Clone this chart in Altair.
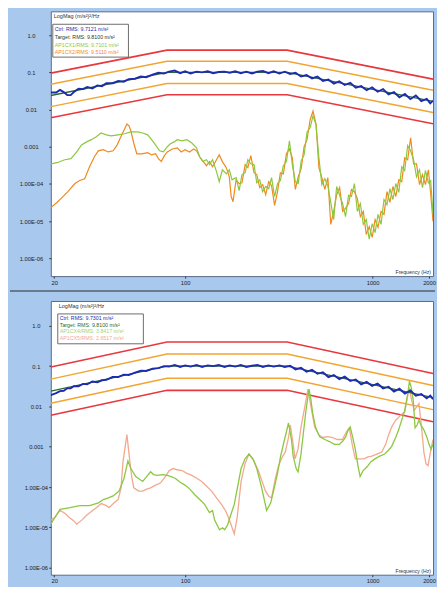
import altair as alt
import pandas as pd

# ---------------- data ----------------
# test profile break points (Hz) and levels in dB re 1 (m/s^2)^2/Hz
prof_freq = [19.2, 80, 350, 2100]
target_db = [-16.2, -10.0, -10.0, -17.8]
alarm_hi_db = [-13.2, -7.0, -7.0, -14.8]
alarm_lo_db = [-19.2, -13.0, -13.0, -20.8]
abort_hi_db = [-10.2, -4.0, -4.0, -11.8]
abort_lo_db = [-22.2, -16.0, -16.0, -23.8]

# control spectra (both tests)
ctrl_freq = [19.2, 20.5, 21.5, 22.5, 23.5, 24.5, 25.5, 27, 28.5, 30, 32, 34, 36, 38, 41, 44, 47, 50,
             54, 58, 62, 67, 72, 77, 82, 88, 94, 100, 107, 115, 123, 132, 141, 151, 162, 173, 185,
             198, 212, 227, 243, 260, 278, 297, 318, 340, 363, 388, 415, 444, 475, 508, 543, 581,
             621, 664, 710, 760, 813, 869, 929, 994, 1063, 1137, 1216, 1300, 1390, 1487, 1590,
             1700, 1818, 1944, 2030, 2100]
ctrl_top_db = [-15.4, -15.4, -14.7, -15.3, -16.1, -16.1, -15.3, -14.4, -14.5, -13.9, -14.3, -13.5,
               -13.7, -12.9, -12.9, -12.3, -12.5, -11.8, -11.7, -11.1, -11.3, -10.6, -10.1, -10.3,
               -9.8, -9.5, -10.2, -9.7, -10.3, -9.8, -10.0, -9.7, -10.2, -9.9, -9.8, -10.1, -9.7,
               -10.2, -9.8, -10.3, -9.8, -9.6, -10.2, -9.7, -10.3, -9.8, -10.4, -10.1, -11.1, -10.7,
               -11.6, -11.1, -12.3, -11.9, -13.0, -12.4, -13.4, -12.8, -14.1, -13.7, -14.8, -14.0,
               -15.2, -14.5, -15.9, -15.3, -16.7, -15.8, -17.2, -16.2, -17.7, -17.1, -18.3, -17.6]
ctrl_bot_db = [-17.2, -16.7, -16.2, -16.1, -15.5, -15.5, -15.0, -15.0, -14.4, -14.5, -13.8, -14.0,
               -13.5, -13.4, -12.7, -12.7, -12.1, -12.2, -11.6, -11.1, -11.2, -10.6, -10.5, -10.0,
               -10.1, -9.7, -10.2, -9.8, -10.1, -9.7, -10.2, -9.8, -10.0, -9.7, -10.2, -9.8, -10.1,
               -9.7, -10.2, -9.9, -9.7, -10.2, -9.8, -10.1, -9.8, -10.2, -9.9, -10.8, -10.4, -11.4,
               -10.9, -11.9, -11.5, -12.7, -12.2, -13.2, -12.6, -13.7, -13.3, -14.5, -13.9, -14.9,
               -14.3, -15.5, -15.1, -16.3, -15.6, -16.8, -16.0, -17.3, -16.9, -18.0, -17.3, -18.2]

# top test: response channels (shared high-frequency grid)
hi_freq = [194, 201, 209, 216, 224, 233, 241, 250, 259, 269, 279, 289, 300, 311, 322, 334, 347, 360,
           373, 387, 401, 416, 431, 447, 464, 481, 499, 517, 536, 556, 577, 598, 620, 643, 667, 692,
           717, 744, 771, 800, 829, 860, 892, 925, 959, 995, 1031, 1069, 1109, 1150, 1193, 1237,
           1283, 1330, 1379, 1430, 1483, 1538, 1595, 1654, 1715, 1779, 1845, 1913, 1984, 2040,
           2100]
cx1_lo_freq = [19.2, 20.7, 22.8, 24.6, 26.4, 28, 29.8, 31.6, 33.6, 35.6, 38, 40.2, 43.9, 47.5, 51.3,
               55.9, 59.4, 63.1, 66.2, 69.5, 73, 76.5, 80.3, 83.4, 87.4, 90.7, 96.3, 102.2, 108.6,
               115, 119.5, 124, 130, 135, 140, 147, 152, 158, 166, 172, 178, 187]
cx1_lo_db = [-34.6, -34.3, -33.5, -33.2, -31.4, -29.5, -28.7, -28.1, -27.3, -26.3, -26.8, -27.1,
             -26.8, -26.5, -26.0, -26.0, -26.3, -26.8, -28.1, -29.5, -31.1, -31.4, -30.0, -29.2,
             -28.7, -28.1, -28.4, -28.1, -29.0, -30.3, -32.7, -34.0, -33.5, -34.8, -33.5, -36.7,
             -39.4, -36.2, -37.3, -36.2, -38.9, -38.3]
cx1_hi_db = [-41.8, -37.5, -37.0, -33.5, -34.6, -34.8, -39.7, -38.9, -42.1, -40.7,
             -41.3, -38.3, -43.4, -39.9, -39.1, -35.1, -34.0, -28.4, -34.8, -39.4,
             -39.9, -33.8, -32.2, -26.0, -24.9, -21.7, -24.1, -33.0, -40.2, -38.6,
             -40.5, -45.0, -49.6, -40.7, -43.1, -45.3, -48.8, -43.1, -43.4, -39.9,
             -47.4, -45.3, -50.9, -49.6, -54.9, -50.7, -53.1, -48.2, -50.9, -44.2,
             -45.6, -41.3, -44.2, -39.9, -42.3, -35.4, -36.4, -29.7, -31.1, -33.5,
             -38.1, -36.2, -41.0, -36.4, -39.7, -39.1, -48.2]
cx2_lo_freq = [19.2, 20.7, 22, 23.7, 25.8, 27.4, 29.1, 30.9, 32.8, 34.4, 36.6, 38.9, 41.3, 43.4,
               45.4, 47.5, 48.9, 50.2, 51.3, 53.3, 55.2, 58.7, 63.1, 66.2, 69.5, 72, 74.6, 77.5,
               80.3, 85.4, 90.7, 95.2, 100, 105.5, 111, 115, 119.5, 125, 130, 135, 140, 147, 152,
               158, 166, 172, 176, 180, 187]
cx2_lo_db = [-46.4, -45.0, -43.7, -42.1, -39.9, -39.1, -38.6, -35.4, -32.7, -31.1, -30.8, -31.4,
             -31.1, -29.5, -27.3, -25.2, -23.9, -24.4, -25.7, -29.2, -31.9, -31.9, -31.6, -32.2,
             -31.9, -33.2, -34.0, -32.4, -31.4, -30.6, -30.3, -31.4, -30.8, -31.4, -30.6, -31.1,
             -32.7, -34.0, -35.1, -34.0, -35.4, -33.5, -32.2, -34.0, -35.7, -38.1, -43.4, -44.8,
             -38.9]
cx2_hi_db = [-39.9, -39.7, -34.8, -35.6, -32.4, -37.0, -37.5, -41.0, -40.2, -42.9,
             -39.4, -40.5, -45.8, -42.1, -37.0, -37.3, -31.9, -30.6, -33.0, -41.5,
             -38.1, -35.9, -30.0, -28.1, -22.8, -20.4, -23.9, -35.6, -38.3, -41.5,
             -38.3, -50.9, -47.4, -42.9, -41.0, -47.4, -46.6, -45.3, -41.5, -42.1,
             -44.0, -48.8, -47.4, -53.6, -51.5, -54.4, -49.6, -51.7, -47.4, -48.2,
             -42.1, -45.0, -40.7, -43.4, -38.9, -39.4, -33.0, -33.5, -27.6, -34.6,
             -34.6, -40.2, -37.5, -40.2, -36.2, -42.6, -50.1]

# bottom test: response channels
cx4_freq = [19.2, 21.5, 24.3, 27.4, 30.9, 34.5, 36.6, 38.9, 41.3, 44.4, 47.2, 49.5, 51.3, 54.5,
            59.4, 62.3, 65.4, 67.8, 71.1, 75.6, 80.2, 84.2, 88.4, 94, 99.8, 106, 112.6, 119.6, 127,
            134.8, 140, 143.6, 152.6, 158.4, 162.4, 168.4, 174.8, 182.8, 198.8, 208.6, 219, 230,
            241, 256, 272, 286, 296, 311, 323, 339, 356, 369, 377, 391, 400, 415, 425, 441, 458,
            468, 479, 497, 522, 556, 588, 626, 664, 690, 716, 742, 760, 788, 808, 837, 858, 890,
            937, 980, 1029, 1092, 1160, 1218, 1264, 1327, 1377, 1429, 1483, 1539, 1572, 1609,
            1648, 1685, 1726, 1767, 1810, 1876, 1949, 2000, 2050, 2100]
cx4_db = [-49.2, -45.5, -45.1, -44.6, -44.6, -43.9, -43.1, -42.7, -42.2, -41.0, -37.8, -33.5,
          -35.4, -37.4, -38.6, -37.4, -36.2, -36.9, -37.1, -36.9, -37.1, -37.4, -37.8, -38.8,
          -39.5, -40.5, -41.9, -43.1, -44.3, -46.3, -45.8, -48.2, -50.6, -50.1, -50.6, -49.4,
          -47.0, -44.3, -35.4, -33.0, -31.8, -33.0, -35.4, -40.2, -45.8, -43.9, -41.0, -36.6,
          -32.3, -28.2, -24.1, -28.2, -32.3, -35.4, -36.2, -31.8, -27.5, -21.0, -15.7, -18.1,
          -21.7, -25.3, -27.5, -28.2, -28.7, -29.4, -29.4, -28.7, -27.7, -25.8, -25.1, -28.2,
          -30.6, -34.9, -37.4, -35.9, -34.9, -33.7, -33.0, -32.3, -31.8, -30.8, -29.9, -27.7,
          -25.8, -23.4, -21.0, -16.9, -13.7, -15.4, -18.6, -25.3, -24.6, -23.4, -24.6, -25.8,
          -27.7, -29.4, -30.6, -29.4]
cx5_freq = [19.2, 20.2, 21.5, 22.8, 24.0, 25.5, 26.4, 28.1, 29.8, 31.7, 33.6, 35.7, 38.0, 39.3,
            41.8, 43.9, 45.5, 46.6, 48.9, 50.7, 52, 53.2, 56.5, 59.4, 62.3, 65.4, 69.5, 73.8, 78.4,
            82.3, 86.4, 90.6, 96.3, 102.2, 108.6, 115.4, 122.6, 130.2, 138.4, 147, 156.2, 164,
            170, 176, 182.8, 189.5, 198.8, 208.6, 219, 232.6, 247, 259, 268.4, 278.6, 289, 303,
            315, 330, 342, 356, 364, 377, 386, 400, 415, 436, 452, 468, 491, 516, 541, 576, 612,
            648, 690, 725, 751, 778, 808, 848, 900, 944, 991, 1053, 1118, 1174, 1218, 1264, 1327,
            1377, 1429, 1483, 1539, 1572, 1609, 1666, 1726, 1767, 1830, 1876, 1926, 1975, 2048,
            2100]
cx5_db = [-48.2, -47.5, -45.8, -46.5, -47.5, -48.4, -49.2, -48.2, -47.0, -46.0, -45.1, -44.1,
          -44.6, -45.1, -43.9, -43.1, -40.2, -33.7, -27.0, -33.7, -37.8, -40.2, -41.0, -41.0,
          -40.5, -40.2, -39.5, -39.0, -37.4, -35.9, -35.4, -35.7, -35.9, -36.6, -37.1, -37.8,
          -38.6, -39.8, -41.0, -42.7, -44.3, -45.8, -47.5, -49.4, -51.6, -47.5, -38.6, -34.2,
          -31.8, -33.5, -36.2, -39.0, -41.0, -42.2, -42.7, -37.8, -34.7, -32.5, -31.3, -27.7,
          -24.6, -29.4, -33.0, -30.6, -25.1, -19.8, -15.7, -19.8, -25.1, -27.0, -27.7, -27.5,
          -27.7, -28.2, -28.2, -26.3, -25.3, -29.4, -33.0, -33.0, -33.0, -32.5, -32.3, -31.8,
          -31.3, -29.4, -27.0, -25.1, -23.4, -22.7, -21.9, -21.4, -17.4, -15.4, -18.1, -21.0,
          -20.0, -19.3, -25.8, -31.3, -34.2, -34.7, -30.6, -28.2]

top_legend = ["Ctrl: RMS: 9.7121 m/s\u00b2", "Target: RMS: 9.8100 m/s\u00b2",
              "AP1CX1/RMS: 9.7101 m/s\u00b2", "AP1CX2/RMS: 9.5110 m/s\u00b2"]
bot_legend = ["Ctrl: RMS: 9.7301 m/s\u00b2", "Target: RMS: 9.8100 m/s\u00b2",
              "AP1CX4/RMS: 3.8417 m/s\u00b2", "AP1CX5/RMS: 2.6517 m/s\u00b2"]
x_ticks = [20, 100, 1000, 2000]
y_ticks = [1, 0.1, 0.01, 0.001, 1e-4, 1e-5, 1e-6]

# ---------------- styling ----------------
RED = "#e8383e"
ORANGE = "#f2a531"
BLUE = "#1d2bb0"
TARGET = "#2f6b2f"
GREEN = "#8cc83f"
ORANGE2 = "#ef8a1f"
SALMON = "#f3a98e"
FONT = "Liberation Sans"

ylabel_expr = ("datum.value >= 0.5 ? '1.0' : datum.value >= 0.05 ? '0.1' : "
               "datum.value >= 0.005 ? '0.01' : datum.value >= 0.0005 ? '0.001' : "
               "datum.value >= 0.00005 ? '1.00E-04' : datum.value >= 0.000005 ? '1.00E-05' : '1.00E-06'")


def make_df(freq, db):
    return pd.DataFrame({"freq": freq, "psd": [10 ** (d / 10.0) for d in db], "i": list(range(len(freq)))})


def panel(w, h, xdom, ydom, lab_pad, series, legend, legend_colors, box, text_x, text_y, step,
          separator=False):
    xenc = alt.X("freq:Q", scale=alt.Scale(type="log", domain=xdom, nice=False),
                 axis=alt.Axis(values=x_ticks, format="d", title=None, grid=False, domain=False,
                               tickSize=2, labelPadding=1, labelFontSize=5.8, labelFont=FONT,
                               labelColor="#222", tickColor="#333", labelFlush=False))
    yenc = alt.Y("psd:Q", scale=alt.Scale(type="log", domain=ydom, nice=False),
                 axis=alt.Axis(values=y_ticks, labelExpr=ylabel_expr, title=None, grid=False,
                               domain=False, tickSize=2, labelPadding=lab_pad, labelAlign="center",
                               labelFontSize=5.8, labelFont=FONT, labelColor="#222",
                               tickColor="#333", minExtent=35, maxExtent=35,
                               labelFlush=False))
    layers = []
    for df, color, sw in series:
        layers.append(alt.Chart(df).mark_line(color=color, strokeWidth=sw, clip=True)
                      .encode(x=xenc, y=yenc, order="i:Q"))
    one = pd.DataFrame({"a": [0]})
    layers.append(alt.Chart(one).mark_rect(fill="white", stroke="#6d6d6d", strokeWidth=1)
                  .encode(x=alt.value(box[0]), x2=alt.value(box[1]),
                          y=alt.value(box[2]), y2=alt.value(box[3])))
    layers.append(alt.Chart(one).mark_text(text="LogMag (m/s\u00b2)\u00b2/Hz", align="left",
                                           baseline="middle", fontSize=5.5, font=FONT,
                                           color="#333")
                  .encode(x=alt.value(text_x), y=alt.value(box[2] - 8)))
    for k, (t, c) in enumerate(zip(legend, legend_colors)):
        layers.append(alt.Chart(one).mark_text(text=t, align="left", baseline="middle",
                                               fontSize=5.3, font=FONT, color=c)
                      .encode(x=alt.value(text_x + 1), y=alt.value(text_y + step * k)))
    layers.append(alt.Chart(one).mark_text(text="Frequency (Hz)", align="right",
                                           baseline="bottom", fontSize=5.2, font=FONT,
                                           color="#333")
                  .encode(x=alt.value(w - 2), y=alt.value(h - 1)))
    if separator:
        layers.append(alt.Chart(one).mark_rule(color="#56606e", strokeWidth=1.5)
                      .encode(x=alt.value(-41), x2=alt.value(w + 2),
                              y=alt.value(h + 15)))
    return alt.layer(*layers).properties(width=w, height=h)


def profile_series():
    return [
        (make_df(prof_freq, abort_hi_db), RED, 1.6),
        (make_df(prof_freq, abort_lo_db), RED, 1.6),
        (make_df(prof_freq, alarm_hi_db), ORANGE, 1.4),
        (make_df(prof_freq, alarm_lo_db), ORANGE, 1.4),
    ]


top_series = profile_series() + [
    (make_df(cx2_lo_freq + hi_freq, cx2_lo_db + cx2_hi_db), ORANGE2, 1.2),
    (make_df(cx1_lo_freq + hi_freq, cx1_lo_db + cx1_hi_db), GREEN, 1.2),
    (make_df(prof_freq, target_db), TARGET, 1.4),
    (make_df(ctrl_freq, ctrl_top_db), BLUE, 1.9),
]
bot_series = profile_series() + [
    (make_df(cx5_freq, cx5_db), SALMON, 1.3),
    (make_df(cx4_freq, cx4_db), GREEN, 1.3),
    (make_df(prof_freq, target_db), TARGET, 1.4),
    (make_df(ctrl_freq, ctrl_bot_db), BLUE, 1.9),
]

top = panel(384, 266, [19.2, 2100], [3.3e-7, 4.4], 18, top_series, top_legend,
            [BLUE, "#26402a", GREEN, ORANGE2], (2, 78, 13, 46), 3, 18, 7.7, separator=True)
bottom = panel(384, 275, [19.2, 2100], [6.7e-7, 4.14], 13, bot_series, bot_legend,
               [BLUE, "#2a6a2a", "#a6d46e", SALMON], (7, 93, 13, 43), 8, 17, 6.8)

chart = alt.vconcat(top, bottom, spacing=7).properties(
    background="#a9c8ee",
    padding={"left": 0, "top": 1, "right": 0, "bottom": 1},
).configure_view(fill="white", stroke="#5b6a86", strokeWidth=1)

chart.save("out.html", embed_options={"renderer": "svg", "actions": False})
